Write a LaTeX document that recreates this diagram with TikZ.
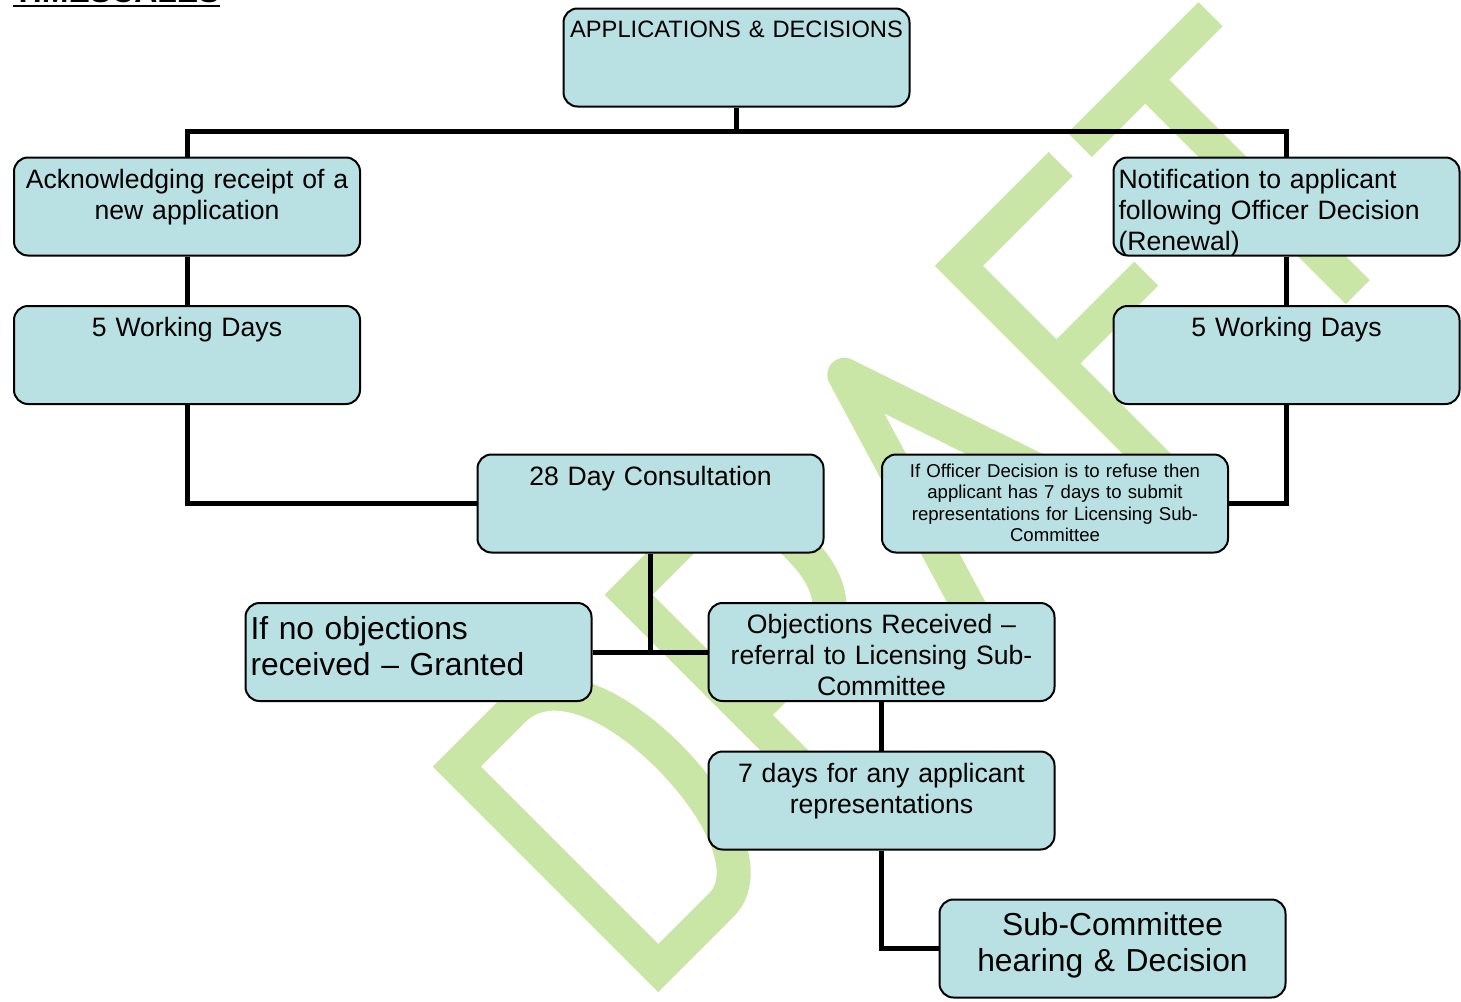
\documentclass[tikz,border=0pt]{standalone}
\usepackage{fontspec}
\setmainfont{Liberation Sans}
\usepackage{tikz}
\definecolor{boxblue}{RGB}{185,224,227}
\definecolor{draftgreen}{RGB}{202,230,166}
\tikzstyle{stagebox} = [draw=black, fill=boxblue, line width=1pt,
    rectangle, rounded corners=7pt, inner xsep=2.5pt, inner ysep=0pt,
    text width=168pt, align=center,
    font=\fontsize{13.3}{15.5}\selectfont, text height=15.25pt, text depth=33.75pt]
\tikzstyle{titletext} = [font=\fontsize{11.85}{13.6}\selectfont, text height=14.25pt, text depth=34.75pt]
\tikzstyle{smalltext} = [font=\fontsize{9.3}{10.75}\selectfont, text height=11.35pt, text depth=37.65pt]
\tikzstyle{bigtext} = [font=\fontsize{15.9}{18}\selectfont, text height=18.2pt, text depth=30.8pt]
\tikzstyle{joinline} = [draw=black, line width=2.5pt]
\tikzstyle{draftstroke} = [draftgreen, line width=17pt]

\begin{document}
\begin{tikzpicture}[x=0.5pt, y=-0.5pt]
\useasboundingbox (0,0) rectangle (1461,1001);

% DRAFT watermark, behind everything
\begin{scope}[rotate=45]
\draw[draftstroke] (-219,865) -- (-140,865) .. controls (-85,865) and (-62,935) .. (-62,1007)
    .. controls (-62,1080) and (-85,1150) .. (-130,1150) -- (-219,1150) -- cycle;
\draw[draftstroke] (24,1166.7) -- (24,865) -- (100,865) .. controls (160,865) and (178,900) .. (178,950)
    .. controls (178,1000) and (160,1035) .. (100,1035) -- (24,1035);
\draw[draftstroke] (105,1035) -- (200,1166.7);
\draw[draftstroke, line join=round] (240,1166.7) -- (332,862) -- (435,1166.7);
\draw[draftstroke] (275,1050) -- (395,1050);
\draw[draftstroke] (634,866) -- (490,866) -- (490,1166.7);
\draw[draftstroke] (490,1004) -- (617,1004);
\draw[draftstroke] (661,866) -- (846,866);
\draw[draftstroke] (753.5,866) -- (753.5,1166.7);
\end{scope}

% heading, cut by the top edge
\node[font=\bfseries\fontsize{16}{18}\selectfont, inner sep=0pt, anchor=base west] (heading) at (13,2.5) {TIMESCALES};
\draw[line width=1.3pt] ([yshift=-1.75pt]heading.base west) -- ([yshift=-1.75pt]heading.base east);

% boxes
\node[stagebox, titletext] (apps) at (736.5,57.5) {\mbox{APPLICATIONS \& DECISIONS}};
\node[stagebox] (ack) at (187,206.5) {Acknowledging receipt of a\\new application};
\node[stagebox] (wdl) at (187,355) {5 Working Days};
\node[stagebox, align=left] (notif) at (1286.5,206.5) {Notification to applicant\\following Officer Decision\\(Renewal)};
\node[stagebox] (wdr) at (1286.5,355) {5 Working Days};
\node[stagebox] (consult) at (650.5,503.5) {28 Day Consultation};
\node[stagebox, smalltext] (refuse) at (1055,503.5) {If Officer Decision is to refuse then\\applicant has 7 days to submit\\representations for Licensing Sub-\\Committee};
\node[stagebox, bigtext, align=left] (granted) at (418.5,652) {If no objections\\received – Granted};
\node[stagebox] (objections) at (881.5,652) {Objections Received –\\referral to Licensing Sub-\\Committee};
\node[stagebox] (sevendays) at (881.5,800.5) {7 days for any applicant\\representations};
\node[stagebox, bigtext] (hearing) at (1112.5,948.5) {Sub-Committee\\hearing \& Decision};

% connectors
\coordinate (split) at (736.5,131);
\draw[joinline] (apps.south) -- (split);
\draw[joinline] (ack.north) -- (ack.north |- split) -- (notif.north |- split) -- (notif.north);
\draw[joinline] (ack.south) -- (wdl.north);
\draw[joinline] (wdl.south) |- (consult.west);
\draw[joinline] (notif.south) -- (wdr.north);
\draw[joinline] (wdr.south) |- (refuse.east);
\draw[joinline] (consult.south) -- (consult.south |- granted.east);
\draw[joinline] (granted.east) -- (objections.west);
\draw[joinline] (objections.south) -- (sevendays.north);
\draw[joinline] (sevendays.south) |- (hearing.west);
\end{tikzpicture}
\end{document}
